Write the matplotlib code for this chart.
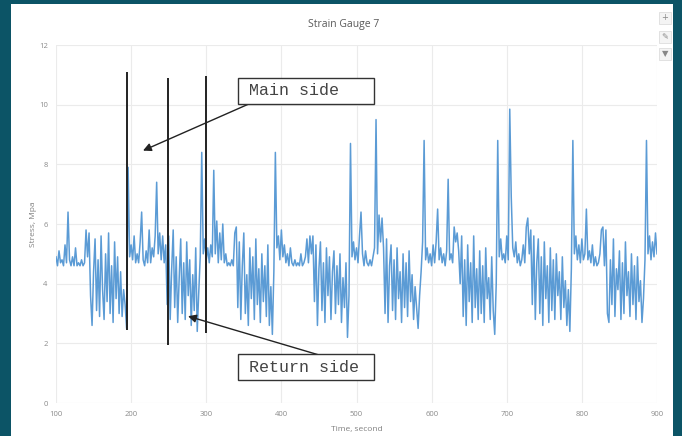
import numpy as np
import matplotlib
matplotlib.use("Agg")
import matplotlib.pyplot as plt
from matplotlib.patches import Rectangle

# ---------------- data ----------------
t_start, t_step = 100, 2
stress = [
    # 100-138 quiet
    4.9, 4.6, 5.1, 4.7, 4.8, 4.6, 5.3, 4.7, 6.4, 4.8, 4.6, 4.9, 4.6, 5.2, 4.6, 4.7, 4.6, 4.8, 4.6, 4.7,
    # 140-194 active
    5.8, 4.9, 5.7, 3.6, 2.6, 4.4, 5.5, 3.1, 4.8, 2.9, 5.6, 3.8, 2.8, 5.0, 3.4, 5.7, 3.0, 4.6, 2.7, 5.4,
    3.5, 4.9, 3.0, 4.4, 2.9, 3.8, 3.3, 2.5,
    # 196-246 quiet
    7.9, 4.9, 5.3, 4.8, 5.6, 4.7, 5.0, 4.7, 5.4, 6.4, 4.8, 4.6, 5.1, 4.7, 5.8, 4.7, 5.2, 4.9, 5.6, 7.4,
    5.0, 5.7, 4.8, 5.6, 4.7, 5.3,
    # 248-292 active
    3.3, 5.6, 2.8, 4.5, 5.8, 3.2, 4.9, 2.7, 4.2, 5.5, 3.0, 4.7, 2.8, 5.4, 3.6, 4.8, 2.6, 4.3, 3.1, 5.2,
    2.4, 3.7, 4.9,
    # 294-340 quiet
    8.4, 5.0, 5.5, 4.8, 5.2, 4.7, 5.3, 4.9, 7.8, 5.0, 6.1, 4.7, 5.7, 4.8, 6.0, 4.7, 5.0, 4.6, 4.7, 4.6,
    4.8, 4.6, 5.7, 5.9,
    # 342-390 active
    3.2, 5.4, 2.8, 4.6, 5.7, 3.0, 4.3, 2.6, 5.2, 3.5, 4.9, 2.8, 5.5, 3.3, 4.5, 2.7, 5.0, 3.4, 4.6, 2.9,
    5.3, 2.6, 3.9, 2.3, 4.4,
    # 392-440 quiet
    8.4, 5.2, 5.6, 4.8, 5.8, 4.9, 5.3, 4.7, 5.0, 4.6, 5.2, 4.7, 4.6, 4.8, 4.6, 4.7, 4.6, 5.0, 4.6, 4.7,
    4.9, 5.5, 4.7, 5.6, 5.0,
    # 442-490 active
    5.6, 3.4, 5.3, 2.6, 4.5, 5.4, 3.1, 4.7, 2.7, 5.2, 3.6, 4.9, 2.8, 4.4, 5.1, 3.0, 4.6, 3.3, 5.0, 2.7,
    4.2, 3.2, 4.7, 2.2, 3.6,
    # 492-536 quiet
    8.7, 4.9, 5.4, 4.8, 5.2, 4.7, 5.6, 6.4, 5.0, 4.6, 5.1, 4.7, 4.6, 4.8, 4.6, 4.9, 5.2, 9.5, 5.0, 6.3,
    5.4, 6.2, 5.2,
    # 538-588 active
    3.0, 5.5, 2.7, 4.6, 5.3, 3.1, 4.8, 2.8, 5.2, 3.5, 4.4, 2.7, 5.0, 3.2, 4.7, 2.9, 5.1, 3.4, 4.3, 2.8,
    3.9, 3.2, 2.5, 3.6, 4.4, 5.4,
    # 590-636 quiet
    8.8, 4.8, 5.2, 4.7, 5.0, 4.6, 5.3, 4.7, 5.4, 6.5, 4.8, 5.2, 4.7, 5.0, 4.6, 5.1, 7.5, 4.8, 5.0, 4.7,
    5.9, 5.4, 5.7, 5.1,
    # 638-686 active
    4.0, 5.6, 2.9, 4.8, 2.6, 5.3, 3.4, 4.7, 2.7, 5.6, 3.2, 4.5, 2.8, 5.1, 3.0, 4.6, 2.7, 5.2, 3.5, 4.2,
    2.8, 4.9, 3.1, 2.3, 4.0,
    # 688-726 quiet
    8.8, 4.9, 5.5, 4.8, 5.0, 4.7, 5.6, 4.8, 9.85, 6.9, 5.2, 4.9, 5.4, 4.7, 5.0, 4.6, 4.8, 5.3, 4.7, 5.9,
    # 728-786 active
    6.2, 5.0, 5.8, 3.3, 5.6, 2.8, 4.7, 5.5, 3.0, 4.9, 2.6, 5.4, 3.5, 4.6, 2.7, 5.2, 3.1, 4.8, 2.8, 5.0,
    3.6, 4.4, 2.8, 4.9, 3.2, 4.1, 2.6, 3.8, 2.4, 4.5,
    # 788-826 quiet
    8.8, 5.0, 5.6, 4.8, 5.3, 4.7, 5.5, 4.8, 5.0, 6.5, 4.8, 5.1, 4.7, 5.3, 4.6, 4.9, 4.6, 4.7, 5.0, 5.8,
    # 828-884 active
    5.9, 4.6, 5.8, 3.0, 2.7, 4.8, 3.3, 5.5, 2.9, 4.5, 3.8, 5.1, 2.8, 4.7, 3.0, 5.4, 3.6, 4.4, 2.9, 5.0,
    3.3, 4.6, 2.8, 4.9, 3.4, 4.1, 2.7, 3.5, 4.8,
    # 886-900 quiet
    8.8, 5.0, 5.6, 4.8, 5.4, 4.9, 5.7, 5.0,
]
time = t_start + t_step * np.arange(len(stress))

marker_times = [195, 249, 300]
marker_low = [2.44, 1.94, 2.34]
marker_high = [11.1, 10.9, 10.97]

x_ticks = [100, 200, 300, 400, 500, 600, 700, 800, 900]
y_ticks = [0, 2, 4, 6, 8, 10, 12]

title = "Strain Gauge 7"
xlabel = "Time, second"
ylabel = "Stress, Mpa"
label_main = "Main side"
label_return = "Return side"

# ---------------- figure ----------------
W, H = 682, 436
fig = plt.figure(figsize=(W / 100, H / 100), dpi=100)
fig.patch.set_facecolor("#0c5466")
fig.patches.append(Rectangle((11 / W, 0), 662 / W, 432 / H, transform=fig.transFigure,
                             facecolor="white", edgecolor="none", zorder=-5))

ax = fig.add_axes([56 / W, 1 - 403 / H, 601 / W, 358 / H])
ax.set_facecolor("white")
ax.plot(time, stress, color="#5b9bd5", lw=1.1, zorder=3)
ax.vlines(marker_times, marker_low, marker_high, colors="#222222", lw=1.4, zorder=4)

ax.set_xlim(100, 900)
ax.set_ylim(0, 12)
ax.set_xticks(x_ticks)
ax.set_yticks(y_ticks)
ax.grid(True, color="#ebebeb", lw=0.8, zorder=0)
for s in ax.spines.values():
    s.set_visible(False)
ax.tick_params(length=0, labelsize=5.5, labelcolor="#8a8a8a", pad=6)
for lab in ax.get_xticklabels() + ax.get_yticklabels():
    lab.set_family("Open Sans")

ax.set_xlabel(xlabel, fontsize=6, color="#808080", family="Open Sans")
ax.set_ylabel(ylabel, fontsize=6, color="#808080", family="Open Sans")
ax.xaxis.set_label_coords(0.5, -0.064)
ax.yaxis.set_label_coords(-0.032, 0.5)

fig.text(344 / W, 1 - 24 / H, title, ha="center", va="center", fontsize=7.5,
         color="#595959", family="Open Sans")

# annotation boxes
def box(x0, x1, y0, y1, text):
    ax.add_patch(Rectangle((x0, y0), x1 - x0, y1 - y0, facecolor="white",
                           edgecolor="#333333", lw=1.0, zorder=6))
    ax.text(x0 + 14.5, (y0 + y1) / 2, text, ha="left", va="center",
            fontsize=12, color="#444444", family="Liberation Mono", zorder=7)

box(342.2, 523.3, 10.03, 10.9, label_main)
box(342.2, 523.3, 0.77, 1.64, label_return)

ax.annotate("", xy=(215.8, 8.46), xytext=(360.9, 10.07),
            arrowprops=dict(arrowstyle="-|>", color="#222222", lw=1.0,
                            mutation_scale=12, shrinkA=0, shrinkB=0), zorder=5)
ax.annotate("", xy=(275.7, 2.91), xytext=(448.7, 1.62),
            arrowprops=dict(arrowstyle="-|>", color="#222222", lw=1.0,
                            mutation_scale=12, shrinkA=0, shrinkB=0), zorder=5)

# chart UI buttons (top right)
for yc, sym in zip([18, 37, 54], ["+", "\u270e", "\u25bc"]):
    fig.patches.append(Rectangle(((665 - 6) / W, 1 - (yc + 6) / H), 12 / W, 12 / H,
                                 transform=fig.transFigure, facecolor="#f4f4f4",
                                 edgecolor="#dddddd", lw=0.6, zorder=1))
    fig.text(665 / W, 1 - yc / H, sym, ha="center", va="center", fontsize=6,
             color="#888888", family="DejaVu Sans")

fig.savefig("out.png", dpi=100, facecolor=fig.get_facecolor())
